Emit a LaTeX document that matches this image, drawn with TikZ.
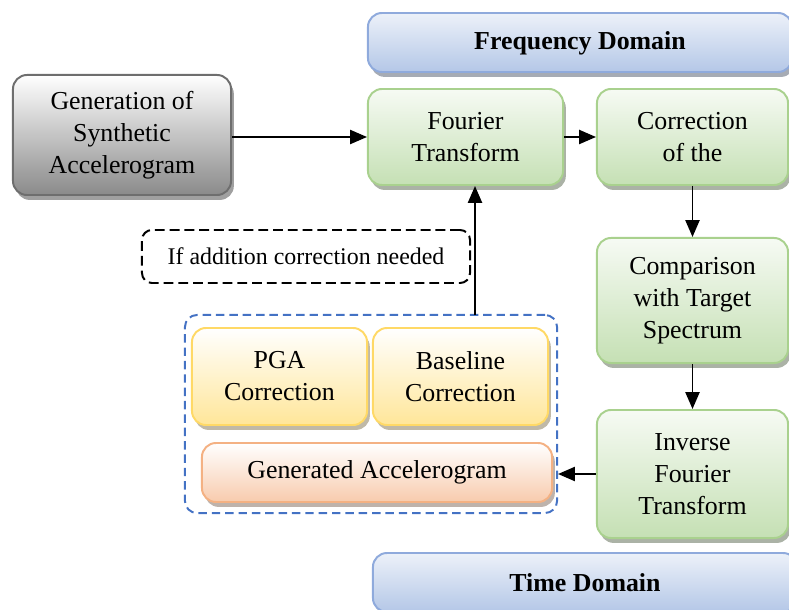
\documentclass[tikz,border=0pt]{standalone}
\usepackage{fontspec}
\setmainfont{Liberation Serif}
\usetikzlibrary{arrows.meta,shadows}

\definecolor{grnline}{HTML}{A9D18E}
\definecolor{grnfill}{HTML}{C5E0B4}
\definecolor{gryline}{HTML}{6E6E6E}
\definecolor{gryfill}{HTML}{8A8A8A}
\definecolor{bluline}{HTML}{8FAADC}
\definecolor{blufill}{HTML}{B4C7E7}
\definecolor{yelline}{HTML}{FFD966}
\definecolor{yelfill}{HTML}{FFE699}
\definecolor{orgline}{HTML}{F4B183}
\definecolor{orgfill}{HTML}{F8CBAD}
\definecolor{grpline}{HTML}{4472C4}

\begin{document}
\begin{tikzpicture}[
  x=0.025cm, y=-0.025cm,
  font=\fontsize{18.4}{22.7}\selectfont,
  box/.style={rounded corners=0.35cm, line width=1.4pt, align=center, inner sep=0pt},
  greenbox/.style={box, draw=grnline, top color=grnfill!15, bottom color=grnfill,
    drop shadow={shadow xshift=2pt, shadow yshift=-3.5pt, fill=grnline!40!black!60, opacity=.75}},
  graybox/.style={box, draw=gryline, top color=white, bottom color=gryfill,
    drop shadow={shadow xshift=2pt, shadow yshift=-3.5pt, fill=black!50, opacity=.75}},
  domainbox/.style={box, draw=bluline, top color=blufill!25, bottom color=blufill, font=\fontsize{18.4}{22.7}\selectfont\bfseries,
    drop shadow={shadow xshift=2pt, shadow yshift=-3.5pt, fill=bluline!40!black!60, opacity=.75}},
  yellowbox/.style={box, draw=yelline, top color=white, bottom color=yelfill,
    drop shadow={shadow xshift=2pt, shadow yshift=-3.5pt, fill=yelline!40!black!55, opacity=.75}},
  orangebox/.style={box, draw=orgline, top color=white, bottom color=orgfill,
    drop shadow={shadow xshift=2pt, shadow yshift=-3.5pt, fill=orgline!40!black!55, opacity=.75}},
  groupbox/.style={draw=grpline, line width=1.4pt, dash pattern=on 6pt off 3.5pt, rounded corners=0.3cm, inner sep=0pt},
  notebox/.style={draw=black, line width=1.4pt, dash pattern=on 7pt off 3.5pt, rounded corners=0.25cm, inner sep=0pt,
    font=\fontsize{17}{21}\selectfont},
  arr/.style={-{Triangle[length=12pt,width=10pt]}, line width=1.4pt}
]
\clip (0,0) rectangle (789,610);

% domain banners
\node[domainbox, minimum width=10.6cm, minimum height=1.475cm, text depth=0.1cm] (freq) at (580,42.5) {Frequency Domain};
\node[domainbox, minimum width=10.6cm, minimum height=1.475cm] (time) at (585,582.5) {Time Domain};

% main chain
\node[graybox, minimum width=5.45cm, minimum height=3cm] (gen) at (122,135) {Generation of\\Synthetic\\Accelerogram};
\node[greenbox, minimum width=4.875cm, minimum height=2.4cm] (ft) at (465.5,137) {Fourier\\Transform};
\node[greenbox, minimum width=4.775cm, minimum height=2.4cm] (corr) at (692.5,137) {Correction\\of the};
\node[greenbox, minimum width=4.775cm, minimum height=3.125cm] (comp) at (692.5,300.5) {Comparison\\with Target\\Spectrum};
\node[greenbox, minimum width=4.775cm, minimum height=3.2cm] (inv) at (692.5,474) {Inverse\\Fourier\\Transform};

% correction group
\node[groupbox, minimum width=9.3cm, minimum height=4.95cm] (corrgrp) at (371,414) {};
\node[yellowbox, minimum width=4.375cm, minimum height=2.425cm] (pga) at (279.5,376.5) {PGA\\Correction};
\node[yellowbox, minimum width=4.375cm, minimum height=2.425cm] (base) at (460.5,376.5) {Baseline\\Correction};
\node[orangebox, minimum width=8.75cm, minimum height=1.475cm] (genacc) at (377,472.5) {Generated Accelerogram};

\node[notebox, minimum width=8.2cm, minimum height=1.325cm] (note) at (306,256.5) {If addition correction needed};

% connectors
\coordinate (loop) at (475,315);
\draw[arr] (gen.east |- ft.west) -- (ft.west);
\draw[arr] (ft) -- (corr);
\draw[arr] (corr) -- (comp);
\draw[arr] (comp) -- (inv);
\draw[arr] (inv.west) -- (inv.west -| corrgrp.east);
\draw[arr] (loop) -- (loop |- ft.south);
\end{tikzpicture}
\end{document}
